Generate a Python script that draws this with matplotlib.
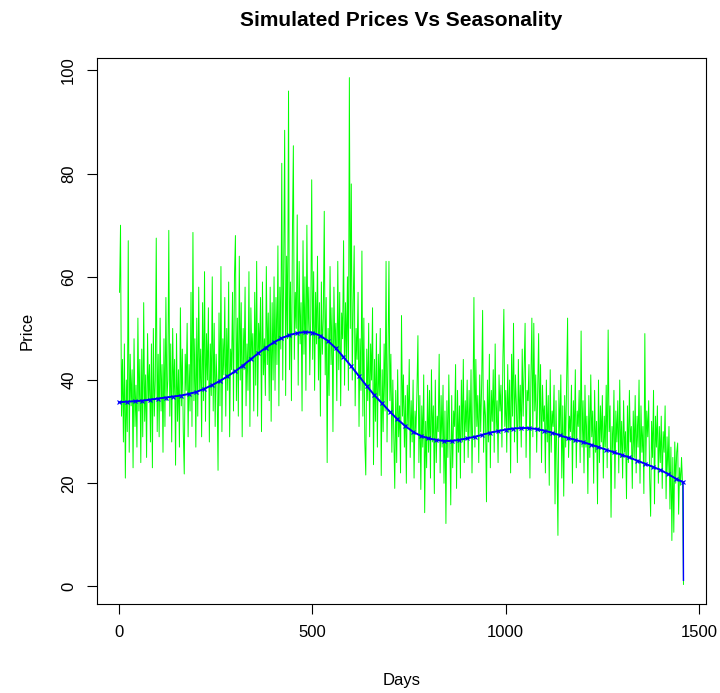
import numpy as np
import matplotlib
matplotlib.use("Agg")
import matplotlib.pyplot as plt

plt.rcParams['font.family'] = ['Liberation Sans', 'DejaVu Sans']

# simulated daily prices (about one value every 2.5 days)
price = [
    # 0 - 100
    57, 70, 33, 44, 28, 47, 21, 40, 30, 67, 26, 45, 35, 42, 23, 48, 31, 39, 27, 52,
    34, 44, 24, 46, 29, 55, 32, 41, 25, 49, 36, 43, 28, 47, 23, 50, 33, 40, 67.5, 30,
    # 100 - 200
    45, 29, 52, 34, 43, 26, 48, 31, 56, 36, 40, 69, 33, 47, 28, 50, 37, 44, 23.5, 49,
    32, 42, 27, 54, 35, 46, 30, 21.8, 45, 38, 51, 29, 43, 34, 57, 31, 68.6, 36, 48, 27,
    # 200 - 300
    52, 33, 58, 38, 46, 29, 55, 36, 61, 32, 49, 40, 54, 28, 47, 37, 60, 34, 51, 31,
    45, 39, 22.5, 53, 35, 62, 30, 48, 41, 56, 33, 50, 38, 59, 29, 46, 42, 57, 34, 60,
    # 300 - 400
    68, 36, 52, 33, 64, 40, 55, 29, 50, 42, 58, 35, 47, 38, 61, 31, 54, 44, 49, 34,
    57, 39, 63, 33, 51, 45, 56, 30, 59, 41, 48, 37, 62, 43, 53, 36, 58, 32, 55, 40,
    # 400 - 500
    60, 38, 56, 43, 66, 35, 58, 46, 82, 40, 62, 88.4, 37, 64, 48, 96, 42, 59, 36, 68,
    85.4, 44, 57, 50, 72, 39, 63, 47, 55, 34, 67, 45, 60, 38, 70, 49, 58, 41, 52, 78.8,
    # 500 - 600
    44, 61, 38, 57, 47, 64, 40, 55, 33, 59, 45, 52, 72.7, 41, 56, 24, 50, 37, 62, 43,
    54, 30, 58, 46, 51, 36, 63, 42, 57, 35, 53, 48, 67, 39, 55, 44, 60, 38, 98.6, 50,
    # 600 - 700
    78, 40, 55, 66, 35, 50, 44, 57, 31, 48, 38, 65, 33, 52, 28, 21.6, 46, 36, 51, 29,
    47, 40, 54, 23.6, 44, 32, 49, 27, 45, 37, 50, 21.5, 42, 30, 47, 34, 63, 28, 44, 63,
    # 700 - 800
    36, 45, 26, 40, 30, 19, 38, 24, 42, 29, 35, 22, 52.5, 33, 41, 27, 37, 20, 39, 31,
    44, 25, 36, 28, 40, 21, 34, 30, 38, 48.6, 24, 37, 18.8, 35, 27, 41, 14.3, 32, 23, 39,
    # 800 - 900
    26, 38, 21, 42, 28, 35, 18, 40, 24, 33, 30, 45, 22, 37, 27, 39, 20, 34, 12.2, 36,
    25, 41, 29, 15.8, 37, 23, 34, 31, 43, 19, 38, 26, 35, 21, 40, 28, 44, 24, 36, 30,
    # 900 - 1000
    40, 25, 38, 29, 42, 22, 35, 56, 27, 44, 31, 37, 24, 41, 30, 39, 53.5, 26, 36, 33,
    16.4, 40, 28, 45, 23, 38, 32, 42, 26, 47, 30, 36, 24, 41, 34, 39, 27, 44, 53.7, 31,
    # 1000 - 1100
    38, 26, 43, 30, 40, 22, 45, 33, 51, 28, 41, 35, 24, 44, 31, 39, 27, 46, 33, 42,
    51, 25, 38, 36, 43, 21, 40, 52, 29, 51, 34, 41, 26, 37, 49, 30, 43, 24, 39, 32,
    # 1100 - 1200
    35, 22, 40, 28, 37, 19.6, 42, 26, 34, 31, 39, 16, 36, 24, 9.9, 38, 29, 41, 21, 35,
    17.5, 37, 27, 40, 52, 25, 33, 30, 39, 20, 36, 28, 42, 23, 34, 31, 38, 24, 49.5, 27,
    # 1200 - 1300
    36, 22, 39, 27, 33, 18, 37, 25, 41, 29, 34, 20, 38, 26, 32, 16, 40, 24, 35, 28,
    37, 21, 33, 27, 39, 23, 49.7, 30, 35, 13.4, 31, 26, 38, 19, 34, 28, 36, 22, 40, 25,
    # 1300 - 1400
    32, 21, 36, 26, 30, 17, 35, 24, 38, 28, 31, 19, 34, 25, 37, 22, 33, 27, 40, 20,
    35, 26, 31, 18, 49, 24, 34, 29, 36, 21, 13.6, 32, 25, 38, 16, 33, 27, 35, 20, 31,
    # 1400 - 1460
    24, 33, 19, 30, 26, 35, 17, 29, 22, 31, 15, 27, 8.9, 25, 10.5, 28, 20, 26, 27.8, 14,
    23, 19.6, 25, 20, 0.4,
]
days = np.linspace(1, 1460, len(price))

# seasonal component
season_days = [0, 20, 40, 60, 80, 100, 120, 140, 160, 180, 200, 220, 240, 260, 280,
               300, 320, 340, 360, 380, 400, 420, 440, 460, 480, 500, 520, 540, 560,
               580, 600, 620, 640, 660, 680, 700, 720, 740, 760, 780, 800, 820, 840,
               860, 880, 900, 920, 940, 960, 980, 1000, 1020, 1040, 1060, 1080, 1100,
               1120, 1140, 1160, 1180, 1200, 1220, 1240, 1260, 1280, 1300, 1320, 1340,
               1360, 1380, 1400, 1420, 1440, 1459, 1460]
season = [35.7, 35.8, 35.9, 36.0, 36.2, 36.4, 36.6, 36.8, 37.0, 37.3, 37.7, 38.3,
          39.0, 39.8, 40.7, 41.7, 42.8, 44.0, 45.2, 46.3, 47.3, 48.1, 48.7, 49.1,
          49.3, 49.2, 48.6, 47.6, 46.2, 44.5, 42.7, 40.8, 38.9, 37.1, 35.5, 33.9,
          32.4, 31.1, 30.0, 29.2, 28.7, 28.4, 28.2, 28.2, 28.4, 28.7, 29.0, 29.4,
          29.8, 30.1, 30.4, 30.6, 30.7, 30.7, 30.5, 30.2, 29.8, 29.3, 28.8, 28.4,
          28.0, 27.5, 27.0, 26.5, 26.0, 25.5, 25.0, 24.4, 23.8, 23.2, 22.6, 21.8,
          20.9, 20.2, 1.2]

fig = plt.figure(figsize=(7.2, 6.93), dpi=100)
ax = fig.add_axes([0.1347, 0.1284, 0.8459, 0.7879])

ax.plot(days, price, color='#00ff00', lw=0.7)
ax.plot(season_days[:-1], season[:-1], color='#0000ff', lw=1.4,
        marker='x', ms=2.5, mew=0.8)
ax.plot(season_days[-2:], season[-2:], color='#0000ff', lw=1.0)

ax.set_xlim(-57.4, 1518.4)
ax.set_ylim(-3.4, 102.4)
ax.set_xticks([0, 500, 1000, 1500])
ax.set_yticks([0, 20, 40, 60, 80, 100])
for lab in ax.get_yticklabels():
    lab.set_rotation(90)
    lab.set_va('center')
ax.tick_params(direction='out', length=7, width=0.8, labelsize=12, pad=8)
for s in ax.spines.values():
    s.set_linewidth(0.8)

ax.set_xlabel('Days', fontsize=12, labelpad=24)
ax.set_ylabel('Price', fontsize=12, labelpad=19)
ax.set_title('Simulated Prices Vs Seasonality', fontsize=15, fontweight='bold', pad=23)

fig.savefig('out.png', dpi=100)
